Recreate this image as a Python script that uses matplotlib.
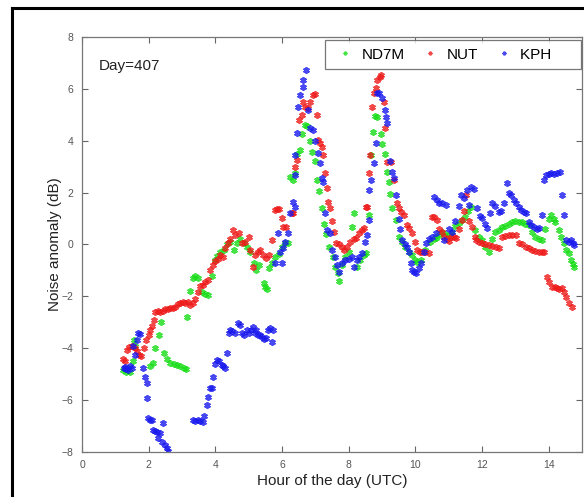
import numpy as np
import matplotlib
matplotlib.use('Agg')
import matplotlib.pyplot as plt
from matplotlib.lines import Line2D

# ND7M (green)
nd7m_hour = [1.22, 1.28, 1.33, 1.38, 1.45, 1.52, 1.55, 1.6,
             2.05, 2.12, 2.2, 2.3, 2.38, 2.45, 2.55, 2.65, 2.75, 2.85, 2.95, 3.05, 3.12,
             3.15, 3.25, 3.32, 3.4, 3.48, 3.6, 3.7, 3.78, 3.9, 3.98, 4.05, 4.15, 4.25,
             4.35, 4.45, 4.55, 4.65, 4.75, 4.85, 4.95, 5.05, 5.15, 5.22, 5.3, 5.45, 5.5,
             5.55, 5.62, 5.7, 5.8, 5.9, 6.0, 6.1, 6.17, 6.25, 6.32, 6.38, 6.45, 6.53, 6.6,
             6.68, 6.75, 6.83, 6.9, 6.98, 7.05, 7.12, 7.19, 7.26, 7.32, 7.4, 7.52, 7.6,
             7.68, 7.72, 7.8, 7.9, 8.0, 8.11, 8.17, 8.26, 8.35, 8.45, 8.53, 8.62, 8.68,
             8.72, 8.8, 8.85, 8.98, 9.01, 9.1, 9.16, 9.22, 9.25, 9.31, 9.43, 9.52, 9.6,
             9.7, 9.8, 9.9, 10.0, 10.06, 10.18, 10.3, 10.45, 10.55, 10.63, 10.72, 10.81,
             10.9, 11.0, 11.1, 11.2, 11.3, 11.4, 11.5, 11.58, 11.67, 11.8, 11.9, 12.0,
             12.1, 12.2, 12.3, 12.4, 12.5, 12.6, 12.7, 12.8, 12.9, 13.0, 13.1, 13.2, 13.3,
             13.4, 13.5, 13.6, 13.7, 13.8, 13.9, 14.0, 14.07, 14.15, 14.2, 14.3, 14.38,
             14.46, 14.53, 14.6, 14.66, 14.72, 14.76]
nd7m_val = [-4.85, -4.8, -4.9, -4.75, -4.9, -4.5, -3.7, -3.9,
            -4.7, -4.55, -4.0, -3.5, -3.0, -4.2, -4.4, -4.55, -4.6, -4.65, -4.7, -4.75, -4.8,
            -2.8, -1.8, -1.3, -1.2, -1.3, -1.85, -1.9, -1.95, -1.2, -0.6, -0.45, -0.3, -0.2,
            0.0, 0.1, -0.2, 0.05, 0.2, 0.05, -0.1, -0.3, -0.7, -1.0, -0.8, -1.5, -1.65,
            -1.7, -0.9, -0.7, -0.5, -0.35, -0.1, 0.05, 0.06, 2.6, 2.5, 2.75, 3.5, 3.65, 4.25,
            4.6, 4.55, 4.0, 3.55, 3.2, 2.5, 2.05, 1.4, 0.8, 0.4, -0.1, -0.5, -0.85,
            -1.1, -1.4, -0.8, -0.5, -0.3, 0.67, 1.2, -0.85, -0.6, -0.4, -0.33, 1.14, 3.45,
            4.35, 4.95, 4.9, 4.26, 3.87, 3.5, 2.8, 2.4, 1.95, 1.4, 0.95, 0.3, 0.1,
            -0.1, -0.3, -0.4, -0.6, -0.67, -0.6, -0.2, 0.1, 0.2, 0.25, 0.35, 0.48,
            0.4, 0.37, 0.5, 0.7, 0.83, 0.95, 1.06, 1.3, 1.45, 0.56, 0.3, 0.17,
            -0.1, -0.29, 0.2, 0.48, 0.55, 0.67, 0.7, 0.8, 0.87, 0.9, 0.87, 0.85, 0.8,
            0.75, 0.5, 0.29, 0.2, 0.17, 0.6, 1.0, 1.14, 1.0, 0.87, 0.56, 0.3,
            0.06, -0.2, -0.33, -0.6, -0.75, -0.87]

# NUT (red)
nut_hour = [1.22, 1.28, 1.35, 1.42, 1.5, 1.58, 1.65, 1.72, 1.78, 1.85, 1.92, 2.0, 2.05,
            2.1, 2.15, 2.2, 2.28, 2.35, 2.42, 2.5, 2.58, 2.65, 2.72, 2.8, 2.88, 2.95, 3.02,
            3.1, 3.18, 3.25, 3.32, 3.4, 3.48, 3.55, 3.62, 3.7, 3.78, 3.85, 3.92, 4.0, 4.08,
            4.15, 4.22, 4.3, 4.38, 4.45, 4.52, 4.6, 4.7, 4.8, 4.9, 5.0, 5.05, 5.12, 5.2,
            5.28, 5.33, 5.42, 5.53, 5.6, 5.69, 5.78, 5.84, 5.9, 5.99, 6.03, 6.13, 6.29,
            6.33, 6.38, 6.44, 6.5, 6.59, 6.62, 6.7, 6.77, 6.85, 6.92, 7.0, 7.04, 7.07,
            7.13, 7.19, 7.22, 7.28, 7.34, 7.37, 7.43, 7.5, 7.56, 7.63, 7.72, 7.8, 7.87,
            7.95, 8.05, 8.15, 8.23, 8.3, 8.41, 8.47, 8.53, 8.56, 8.62, 8.65, 8.71, 8.75,
            8.83, 8.86, 8.93, 8.98, 9.05, 9.1, 9.16, 9.28, 9.37, 9.45, 9.52, 9.58, 9.67,
            9.76, 9.82, 9.91, 10.0, 10.06, 10.15, 10.21, 10.3, 10.42, 10.51, 10.57, 10.66,
            10.72, 10.8, 10.87, 10.95, 11.02, 11.08, 11.15, 11.23, 11.32, 11.41, 11.47,
            11.53, 11.62, 11.71, 11.78, 11.83, 11.92, 12.01, 12.1, 12.22, 12.3, 12.43,
            12.5, 12.6, 12.7, 12.81, 12.9, 13.02, 13.11, 13.2, 13.32, 13.4, 13.5, 13.6,
            13.71, 13.8, 13.86, 13.95, 14.02, 14.1, 14.18, 14.25, 14.32, 14.4, 14.46,
            14.52, 14.61, 14.7]
nut_val = [-4.4, -4.5, -4.05, -3.95, -3.9, -4.0, -4.1, -4.25, -4.3, -4.0, -3.7, -3.5, -3.3,
           -3.15, -2.9, -2.6, -2.55, -2.6, -2.55, -2.5, -2.5, -2.45, -2.45, -2.4, -2.3, -2.25, -2.2,
           -2.25, -2.2, -2.35, -2.25, -2.1, -1.85, -1.6, -1.55, -1.45, -1.35, -1.0, -0.8, -0.65, -0.55,
           -0.4, -0.48, -0.15, 0.05, 0.2, 0.56, 0.35, 0.45, 0.06, 0.1, 0.29, -0.2, -0.87, -0.4,
           -0.3, -0.21, -0.4, -0.52, -0.4, 0.17, 1.33, 1.37, 1.35, 1.02, 0.67, 0.67, 1.2,
           1.2, 2.99, 3.26, 4.8, 4.99, 5.49, 5.3, 5.26, 5.5, 5.76, 5.8, 4.99, 4.03,
           3.9, 3.76, 3.45, 2.75, 2.18, 1.64, 1.41, 0.9, 0.5, 0.06, 0.0, -0.1, -0.21,
           -0.1, 0.1, 0.2, 0.25, 0.45, 0.56, 0.64, 1.45, 1.45, 2.75, 3.45, 5.3, 5.84,
           6.03, 6.34, 6.45, 6.53, 5.5, 4.5, 3.18, 3.18, 2.49, 1.6, 1.41, 1.26, 1.14,
           0.75, 0.64, 0.44, 0.1, -0.21, -0.3, -0.29, -0.3, -0.33, 1.06, 1.06, 0.94,
           0.6, 0.5, 0.3, 0.2, 0.15, 0.29, 0.3, 0.25, 0.6, 0.94, 1.3,
           1.91, 0.9, 0.67, 0.3, 0.17, 0.1, 0.06, 0.0, -0.02, -0.05, -0.1,
           -0.14, 0.29, 0.33, 0.37, 0.35, 0.37, 0.06, 0.0, -0.1, -0.15, -0.21, -0.25,
           -0.29, -0.3, -0.29, -1.25, -1.45, -1.64, -1.65, -1.68, -1.7, -1.68, -1.85,
           -2.02, -2.25, -2.41]

# KPH (blue)
kph_hour = [1.25, 1.29, 1.33, 1.38, 1.44, 1.5, 1.53, 1.59, 1.64, 1.68, 1.74, 1.83, 1.89,
            1.94, 1.95, 1.98, 2.05, 2.09, 2.13, 2.2, 2.24, 2.28, 2.33, 2.39, 2.43, 2.48,
            2.54, 2.57,
            3.33, 3.4, 3.47, 3.55, 3.62, 3.67, 3.74, 3.77, 3.83, 3.89, 3.92, 3.98, 4.04,
            4.1, 4.19, 4.24, 4.28, 4.34, 4.4, 4.43, 4.5, 4.58, 4.67, 4.73, 4.8, 4.87, 4.94,
            5.0, 5.06, 5.12, 5.18, 5.23, 5.28, 5.33, 5.4, 5.47, 5.53, 5.58, 5.63, 5.69, 5.72,
            5.78, 5.87, 5.93, 5.99, 6.03, 6.1, 6.17, 6.25, 6.32, 6.38, 6.38, 6.4, 6.44,
            6.47, 6.53, 6.62, 6.62, 6.73, 6.77, 6.85, 6.92, 7.0, 7.07, 7.13, 7.2, 7.22,
            7.3, 7.34, 7.43, 7.49, 7.58, 7.65, 7.72, 7.81, 7.9, 8.0, 8.11, 8.17, 8.25,
            8.32, 8.41, 8.5, 8.56, 8.62, 8.62, 8.68, 8.77, 8.83, 8.86, 8.92, 9.01, 9.08,
            9.13, 9.16, 9.25, 9.31, 9.37, 9.43, 9.5, 9.55, 9.61, 9.7, 9.75, 9.82, 9.87,
            9.91, 9.97, 10.03, 10.1, 10.18, 10.25, 10.33, 10.42, 10.51, 10.57, 10.63,
            10.65, 10.72, 10.81, 10.87, 10.93, 11.0, 11.11, 11.2, 11.3, 11.38, 11.45,
            11.55, 11.62, 11.68, 11.75, 11.86, 11.95, 12.01, 12.08, 12.16, 12.25, 12.31,
            12.4, 12.51, 12.58, 12.66, 12.75, 12.8, 12.87, 12.95, 13.02, 13.1, 13.17,
            13.25, 13.32, 13.41, 13.48, 13.56, 13.64, 13.71, 13.8, 13.86, 13.92, 14.0,
            14.07, 14.15, 14.25, 14.33, 14.4, 14.46, 14.52, 14.6, 14.67, 14.72, 14.76]
kph_val = [-4.75, -4.72, -4.8, -4.84, -4.7, -4.76, -3.9, -4.26, -3.68, -3.4, -3.45, -4.76, -5.1,
           -5.35, -5.92, -6.69, -6.75, -6.77, -7.15, -7.2, -7.23, -7.46, -7.27, -7.6, -6.88, -7.73,
           -7.85, -7.95,
           -6.77, -6.8, -6.77, -6.8, -6.84, -6.6, -6.19, -5.88, -5.53, -5.53, -5.1, -4.6, -4.45,
           -4.5, -4.64, -4.7, -4.76, -4.18, -3.4, -3.3, -3.35, -3.4, -3.03, -3.1, -3.4, -3.5, -3.3,
           -3.4, -3.3, -3.18, -3.4, -3.3, -3.5, -3.49, -3.55, -3.65, -3.6, -3.3, -3.22, -3.76, -3.3,
           -0.72, 0.44, -0.3, -0.72, -0.14, 0.1, 0.44, 1.2, 1.64, 1.45, 2.68, 3.45, 4.3,
           5.3, 5.76, 6.07, 6.34, 6.73, 5.18, 4.5, 4.41, 4.0, 3.53, 3.14, 2.56, 2.41,
           1.2, 0.56, 0.44, -0.21, -0.48, -0.8, -1.06, -0.72, -0.6, -0.55, -0.48, -0.87, -0.6,
           -0.48, -0.33, 0.1, 0.37, 0.94, 2.1, 2.49, 3.14, 3.91, 5.84, 5.84, 5.65, 5.2,
           4.91, 4.68, 3.2, 2.8, 2.56, 1.91, 1.0, 0.6, 0.17, 0.0, -0.1, -0.29, -0.7,
           -0.98, -1.05, -1.1, -0.9, -0.72, -0.3, 0.06, 0.2, 0.29, 1.83, 0.44,
           1.7, 1.6, 1.6, 0.17, 1.52, 0.6, 0.48, 0.9, 1.5, 1.91, 1.8,
           2.1, 1.52, 2.22, 2.15, 1.41, 1.1, 1.02, 0.8, 0.64, 1.2, 1.6,
           1.5, 1.26, 1.3, 1.6, 2.37, 2.0, 1.91, 1.7, 1.6, 1.45, 1.33,
           1.25, 1.2, 0.87, 0.75, 0.67, 0.6, 0.64, 1.14, 2.5, 2.68, 2.7,
           2.75, 2.72, 2.75, 2.78, 1.91, 1.14, 0.17, 0.1, 0.17, 0.05, -0.02]

series = [('ND7M', nd7m_hour, nd7m_val, '#18dd18'),
          ('NUT', nut_hour, nut_val, '#ee1a1a'),
          ('KPH', kph_hour, kph_val, '#1a1aee')]

plt.rcParams['font.family'] = ['Liberation Sans', 'DejaVu Sans']

fig = plt.figure(figsize=(5.84, 4.97), dpi=100)
ax = fig.add_axes([82 / 584, 45 / 497, 500 / 584, 415 / 497])

for name, hrs, vals, col in series:
    ax.plot(hrs, vals, linestyle='none', marker=(6, 2, 0), markersize=4.8,
            markeredgewidth=1.3, color=col, alpha=0.8, label=name)

ax.set_xlim(0, 15)
ax.set_ylim(-8, 8)
ax.set_xticks(np.arange(0, 15, 2))
ax.set_yticks(np.arange(-8, 9, 2))
ax.tick_params(direction='in', top=True, right=True, length=4, width=0.8,
               colors='#666666', labelsize=7.5, labelcolor='#555555', pad=6)
for s in ax.spines.values():
    s.set_color('#777777')
    s.set_linewidth(0.9)

ax.set_xlabel('Hour of the day (UTC)', fontsize=11, color='#222222', labelpad=3)
ax.set_ylabel('Noise anomaly (dB)', fontsize=11, color='#222222', labelpad=0)
ax.text(0.034, 0.93, 'Day=407', transform=ax.transAxes, fontsize=11, color='#222222',
        va='center', ha='left')

leg = ax.legend(loc='upper right', bbox_to_anchor=(0.997, 0.993), borderaxespad=0,
                ncol=3, frameon=True, fancybox=False, fontsize=11,
                handlelength=1.6, handletextpad=0.3, columnspacing=0.85,
                borderpad=0.5, markerscale=0.55)
leg.get_texts()[2].set_text('KPH     ')
leg.get_frame().set_edgecolor('#555555')
leg.get_frame().set_linewidth(0.9)

# outer black frame (cropped on right and bottom)
fx = 12 / 584
fy = 1 - 8 / 497
fig.add_artist(Line2D([fx, fx], [fy, -0.1], color='black', lw=2.2, transform=fig.transFigure))
fig.add_artist(Line2D([fx, 1.1], [fy, fy], color='black', lw=2.2, transform=fig.transFigure))

fig.savefig('out.png', dpi=100)
